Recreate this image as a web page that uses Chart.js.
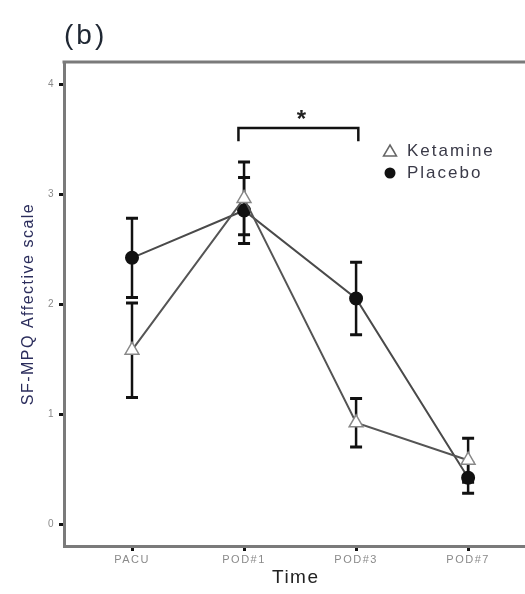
<!DOCTYPE html>
<html>
<head>
<meta charset="utf-8">
<script src="https://cdn.jsdelivr.net/npm/chart.js@4.4.0/dist/chart.umd.min.js"></script>
<style>
  html, body { margin: 0; background: #fff; overflow: hidden; }
  #wrap { width: 525px; height: 594px; overflow: hidden; }
  canvas { display: block; }
</style>
</head>
<body>
<!-- the figure's frame runs past the right edge, so the canvas is a bit wider than the window -->
<div id="wrap"><canvas id="myChart" width="537" height="594"></canvas></div>
<script>
// values
const categories = ['PACU', 'POD#1', 'POD#3', 'POD#7'];
const ketamineMean = [1.58, 2.96, 0.92, 0.58];
const ketamineErr = [0.43, 0.33, 0.22, 0.20];
const placeboMean = [2.42, 2.85, 2.05, 0.42];
const placeboErr = [0.36, 0.30, 0.33, 0.14];
const yTicks = [0, 1, 2, 3, 4];
// significance bracket between POD#1 and POD#3
const bracketX = [0.95, 0.95, 2.02, 2.02];
const bracketY = [3.48, 3.6, 3.6, 3.48];

const FONT = "'Liberation Sans', Arial, sans-serif";
const ctx = document.getElementById('myChart').getContext('2d');

function toPoints(means) {
    return means.map((v, i) => ({x: i, y: v}));
}

// the scanned figure has wide, loose lettering
const spacing = {
    id: 'spacing',
    beforeDraw(chart) { chart.ctx.letterSpacing = '1.5px'; }
};

const errorBars = {
    id: 'errorBars',
    beforeDatasetsDraw(chart) {
        const c = chart.ctx;
        const x = chart.scales.x, y = chart.scales.y;
        c.save();
        c.strokeStyle = '#111';
        [[ketamineMean, ketamineErr], [placeboMean, placeboErr]].forEach(([m, e]) => {
            m.forEach((v, i) => {
                const px = x.getPixelForValue(i);
                const top = y.getPixelForValue(v + e[i]);
                const bot = y.getPixelForValue(v - e[i]);
                c.lineWidth = 2.5;
                c.beginPath();
                c.moveTo(px, top);
                c.lineTo(px, bot);
                c.stroke();
                c.lineWidth = 3;
                c.beginPath();
                c.moveTo(px - 6, top); c.lineTo(px + 6, top);
                c.moveTo(px - 6, bot); c.lineTo(px + 6, bot);
                c.stroke();
            });
        });
        c.restore();
    }
};

const extras = {
    id: 'extras',
    afterDraw(chart) {
        const c = chart.ctx;
        const area = chart.chartArea;
        const x = chart.scales.x, y = chart.scales.y;
        c.save();
        // top frame line
        c.strokeStyle = '#7a7a7a';
        c.lineWidth = 3;
        c.beginPath();
        c.moveTo(area.left - 1.5, area.top);
        c.lineTo(area.right, area.top);
        c.stroke();

        // panel label
        c.fillStyle = '#1f2733';
        c.letterSpacing = '3px';
        c.font = '28px ' + FONT;
        c.textBaseline = 'middle';
        c.fillText('(b)', 64, 36);

        // asterisk over bracket
        c.letterSpacing = '0px';
        c.fillStyle = '#222';
        c.font = 'bold 24px ' + FONT;
        c.textAlign = 'center';
        c.textBaseline = 'alphabetic';
        c.fillText('*', (x.getPixelForValue(bracketX[0]) + x.getPixelForValue(bracketX[3])) / 2 + 3, y.getPixelForValue(bracketY[1]) - 1);

        // legend
        const lx = 390, ly1 = 151, ly2 = 173;
        c.fillStyle = '#fff';
        c.strokeStyle = '#666';
        c.lineWidth = 1.5;
        c.beginPath();
        c.moveTo(lx, ly1 - 6);
        c.lineTo(lx + 6.5, ly1 + 5);
        c.lineTo(lx - 6.5, ly1 + 5);
        c.closePath();
        c.fill();
        c.stroke();
        c.fillStyle = '#111';
        c.beginPath();
        c.arc(lx, ly2, 5.5, 0, Math.PI * 2);
        c.fill();
        c.fillStyle = '#3a3a48';
        c.letterSpacing = '2px';
        c.font = '17px ' + FONT;
        c.textAlign = 'left';
        c.textBaseline = 'middle';
        c.fillText('Ketamine', lx + 17, ly1);
        c.fillText('Placebo', lx + 17, ly2);
        c.restore();
    }
};

const myChart = new Chart(ctx, {
    type: 'line',
    data: {
        datasets: [{
            label: 'Bracket',
            data: bracketX.map((v, i) => ({x: v, y: bracketY[i]})),
            borderColor: '#111',
            borderWidth: 2.5,
            pointRadius: 0,
            order: 3
        }, {
            label: 'Placebo',
            data: toPoints(placeboMean),
            borderColor: '#4a4a4a',
            borderWidth: 2,
            pointStyle: 'circle',
            pointRadius: 6,
            pointBackgroundColor: '#111',
            pointBorderColor: '#111',
            order: 2
        }, {
            label: 'Ketamine',
            data: toPoints(ketamineMean),
            borderColor: '#555',
            borderWidth: 2,
            pointStyle: 'triangle',
            pointRadius: 8,
            pointBackgroundColor: '#fff',
            pointBorderColor: '#888',
            pointBorderWidth: 1.5,
            order: 1
        }]
    },
    options: {
        responsive: false,
        animation: false,
        layout: { padding: { top: 62, right: 0, bottom: 0, left: 0 } },
        plugins: {
            legend: { display: false },
            tooltip: { enabled: false }
        },
        scales: {
            x: {
                type: 'linear',
                min: -0.607,
                max: 3.53,
                afterBuildTicks(scale) {
                    scale.ticks = categories.map((_, i) => ({value: i}));
                },
                afterFit(scale) { scale.height = 48; },
                ticks: {
                    callback: (v) => categories[v],
                    color: '#8a8a8a',
                    font: { size: 11, family: FONT },
                    padding: 2,
                    maxRotation: 0
                },
                grid: {
                    drawOnChartArea: false,
                    tickLength: 5,
                    tickColor: '#111',
                    tickWidth: 3
                },
                border: { color: '#7a7a7a', width: 3 },
                title: {
                    display: true,
                    text: 'Time',
                    color: '#222',
                    font: { size: 19, family: FONT },
                    padding: { top: 0, bottom: 5 }
                }
            },
            y: {
                min: -0.2,
                max: 4.2,
                afterBuildTicks(scale) {
                    scale.ticks = yTicks.map(v => ({value: v}));
                },
                afterFit(scale) { scale.width = 64; },
                ticks: {
                    color: '#8a8a8a',
                    font: { size: 10, family: FONT },
                    padding: 4
                },
                grid: {
                    drawOnChartArea: false,
                    tickLength: 5,
                    tickColor: '#111',
                    tickWidth: 3
                },
                border: { color: '#7a7a7a', width: 3 },
                title: {
                    display: true,
                    text: 'SF-MPQ Affective scale',
                    color: '#2b2d5c',
                    font: { size: 16, family: FONT },
                    padding: { top: 19, bottom: 0 }
                }
            }
        }
    },
    plugins: [spacing, errorBars, extras]
});
</script>
</body>
</html>
